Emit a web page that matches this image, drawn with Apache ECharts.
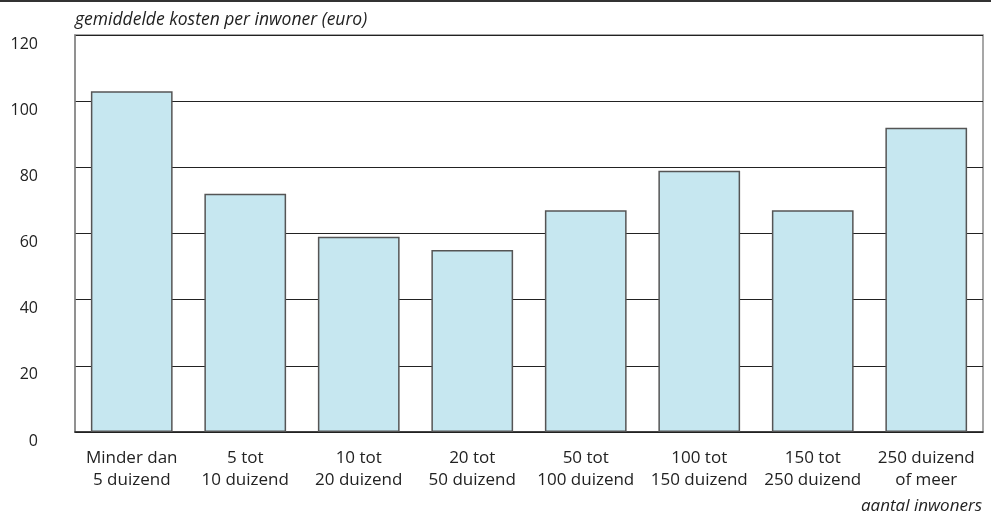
<!DOCTYPE html>
<html><head><meta charset="utf-8">
<script src="https://cdn.jsdelivr.net/npm/echarts@6/dist/echarts.min.js"></script>
<style>html,body{margin:0;padding:0;background:#fff}#c{width:991px;height:516px}</style>
</head><body><div id="c"></div>
<script>
const categories = ["Minder dan\n5 duizend","5 tot\n10 duizend","10 tot\n20 duizend","20 tot\n50 duizend","50 tot\n100 duizend","100 tot\n150 duizend","150 tot\n250 duizend","250 duizend\nof meer"];
const values = [103, 72, 59, 55, 67, 79, 67, 92];
const yTitle = "gemiddelde kosten per inwoner (euro)";
const xTitle = "aantal inwoners";

const chart = echarts.init(document.getElementById('c'));
const font = '"Open Sans", "Noto Sans", sans-serif';
chart.setOption({
  animation: false,
  textStyle: { fontFamily: font },
  grid: { left: 75, right: 8, top: 35, bottom: 84, show: true, borderColor: '#8a8a8a', borderWidth: 1.5, containLabel: false },
  graphic: [
    { type: 'rect', left: 0, top: 0, shape: { width: 991, height: 2 }, style: { fill: '#333' } },
    { type: 'text', left: 75, top: 11, style: { text: yTitle, font: 'italic 17.5px ' + font, fill: '#222' } },
    { type: 'text', right: 9, top: 498, style: { text: xTitle, font: 'italic 17px ' + font, fill: '#222' } }
  ],
  xAxis: {
    type: 'category', data: categories,
    axisLine: { show: true, lineStyle: { color: '#222', width: 1.5 } },
    axisTick: { show: false },
    axisLabel: { color: '#222', fontSize: 17, lineHeight: 22, margin: 15, interval: 0, fontFamily: font }
  },
  yAxis: {
    type: 'value', min: 0, max: 120, interval: 20,
    axisLine: { show: true, lineStyle: { color: '#8a8a8a', width: 1.5 } },
    axisTick: { show: false },
    splitLine: { show: true, lineStyle: { color: '#222', width: 1.2 } },
    axisLabel: { color: '#222', fontSize: 16, margin: 37, verticalAlign: 'top', lineHeight: 18, fontFamily: font }
  },
  series: [{
    type: 'bar', data: values, barCategoryGap: '28%',
    itemStyle: { color: '#c6e7f0', borderColor: '#555', borderWidth: 1.5 }
  }]
});
</script></body></html>
